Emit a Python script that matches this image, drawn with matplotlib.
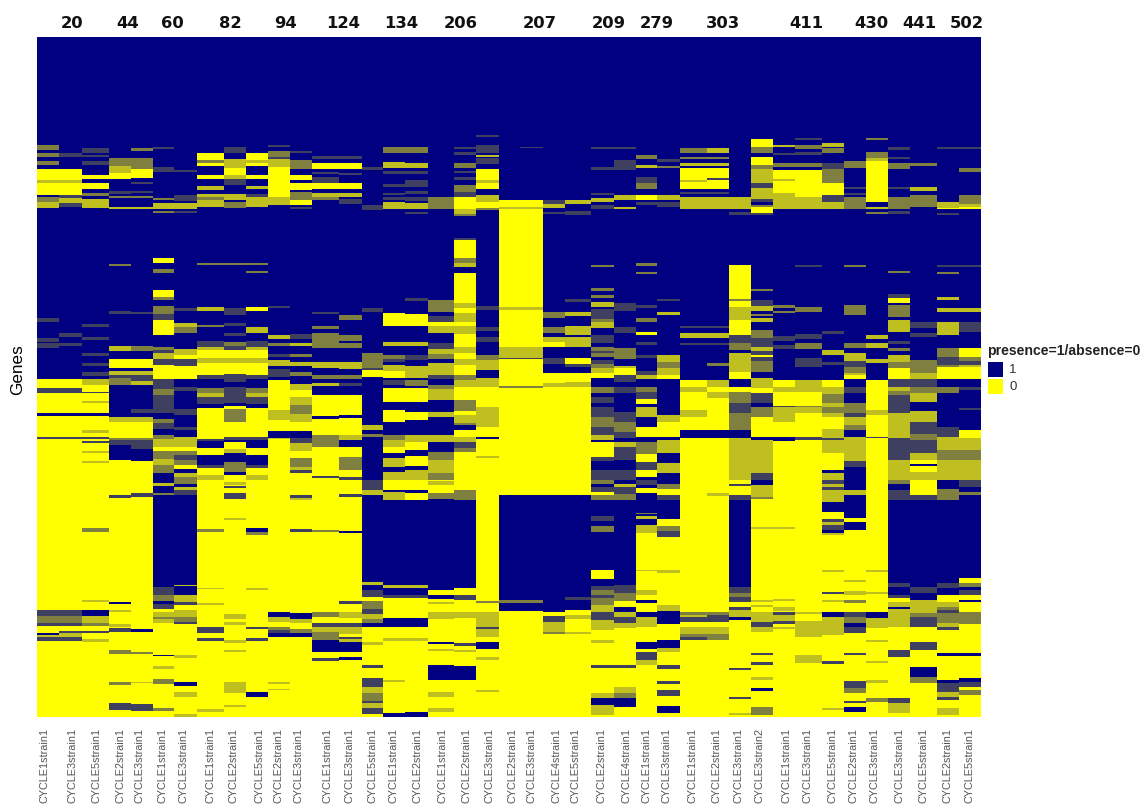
import numpy as np
import matplotlib
matplotlib.use('Agg')
import matplotlib.pyplot as plt
from matplotlib.colors import LinearSegmentedColormap
from matplotlib.patches import Rectangle

# Group names on top of the heatmap
groups = ['20', '44', '60', '82', '94', '124', '134', '206', '207', '209',
          '279', '303', '411', '430', '441', '502']

samples = ['CYCLE1strain1', 'CYCLE3strain1', 'CYCLE5strain1', 'CYCLE2strain1', 'CYCLE3strain1',
           'CYCLE1strain1', 'CYCLE3strain1', 'CYCLE1strain1', 'CYCLE2strain1', 'CYCLE5strain1',
           'CYCLE2strain1', 'CYCLE3strain1', 'CYCLE1strain1', 'CYCLE3strain1', 'CYCLE5strain1',
           'CYCLE1strain1', 'CYCLE2strain1', 'CYCLE1strain1', 'CYCLE2strain1', 'CYCLE3strain1',
           'CYCLE2strain1', 'CYCLE3strain1', 'CYCLE4strain1', 'CYCLE5strain1', 'CYCLE2strain1',
           'CYCLE4strain1', 'CYCLE1strain1', 'CYCLE3strain1', 'CYCLE1strain1', 'CYCLE2strain1',
           'CYCLE3strain1', 'CYCLE3strain2', 'CYCLE1strain1', 'CYCLE3strain1', 'CYCLE5strain1',
           'CYCLE2strain1', 'CYCLE3strain1', 'CYCLE3strain1', 'CYCLE5strain1', 'CYCLE2strain1',
           'CYCLE5strain1']

# Presence along the genes, one string per sample.
# "108n" = down to gene 108 the value is n (n=1, d=.75, g=.5, o=.25, y=0)
levels = {'n': 1.0, 'd': 0.75, 'g': 0.5, 'o': 0.25, 'y': 0.0}
n_genes = 680

runs = [
    "108n 113g 116n 120g 124n 128g 132n 143y 146o 158y 160n 165g 171o 281n 285d 301n 305d 306n 311d 342n 351y 356d 376y 379n 400y 402d 573y 579d 586g 589d 596y 598n 600o 604d 680y",
    "116n 120d 132n 143y 146o 158y 161d 166o 170d 296n 300d 306n 309d 342n 351y 356d 376y 379n 400y 402d 573y 579d 586g 589d 594y 596d 600o 604d 680y",
    "111n 116d 118n 120d 124n 128d 138n 142y 146n 152y 156n 159g 162n 171o 287n 290d 300n 303d 316n 319d 326n 329d 335n 339d 342n 348o 355y 356d 364y 366o 376y 379n 393y 396o 400y 402d 404y 406d 414y 416o 424y 426o 491y 495g 563y 565o 573y 579n 586o 589g 594y 596d 602y 605o 680y",
    "121n 129g 136o 142y 154n 157d 159n 161g 170n 172o 227n 229g 274n 277d 309n 314o 322n 331y 334n 338o 341d 348g 380n 385o 401y 403g 408d 423n 458y 461d 565y 567n 573y 575o 587y 590o 591y 595d 613y 617g 645y 648g 666y 673d 680y",
    "111n 114g 121n 132g 141y 145n 147d 154n 156d 159n 161g 170n 172o 275n 277d 309n 314g 322n 331y 334n 338o 344d 348o 372n 376d 380n 385o 401y 403g 406d 412d 424n 456y 460d 592y 595n 615y 617g 645y 646o 667y 674d 680y",
    "110n 112d 130n 135d 161n 163g 166n 172o 174n 176g 221n 226y 232n 236g 253n 260y 263g 269n 277g 283d 298y 310n 313g 316d 322o 328d 342y 352d 358g 376d 382n 386g 392d 398n 402g 410o 414y 422g 428o 436g 443n 446n 449o 456n 458g 550n 558d 564g 567n 572d 575y 580o 582g 586o 618y 619n 629y 632o 642y 647g 671y 674g 680y",
    "133n 135d 158n 164d 166n 172o 174n 176d 271n 274d 286n 290o 296g 312n 318o 322y 329d 342y 350n 354d 372n 378d 390n 393d 400n 410o 414y 418g 423d 428g 432y 436n 440o 447g 450n 453o 458d 548n 549o 558n 565o 568d 573y 580o 585g 587d 618y 621o 645y 649n 655y 660o 677y 680o",
    "116n 123y 126g 129y 138n 142y 149n 153o 157n 160o 163g 170o 226n 228g 270n 274o 288n 290g 304n 310d 313o 321y 326o 338y 342d 351n 356g 360o 367d 371n 402y 404d 411n 418y 428n 431d 438y 443o 492y 495g 551y 552o 566y 568o 590y 596d 601y 604d 672y 675o 680y",
    "110n 116d 122n 131o 138y 142o 148d 157n 163o 165n 171g 226n 228g 271n 278d 286n 289d 296n 299d 305n 309g 313d 321y 326o 337y 345d 350n 352d 366d 369n 372y 385g 400y 403d 405n 412y 416o 425n 435g 438n 445y 448o 449y 451d 456y 462d 481y 483o 577y 582o 585y 588o 603y 606o 613y 615o 645y 656o 668y 670o 680y",
    "116n 123y 126o 129y 138n 142y 149n 152o 157n 160d 163o 170o 226n 228g 234n 236g 270n 274y 290n 296o 304n 310d 313o 321y 326o 338y 342d 351n 356g 360o 367d 371n 400y 403d 411n 418y 428n 431d 438y 443o 491y 495n 498g 551y 553o 590y 592d 601y 604d 655y 660n 680y",
    "108n 110d 114n 120g 122d 130o 160y 168o 171n 269n 271d 298n 302o 306n 309g 317n 320d 323n 329o 332n 340d 343n 373y 383o 394y 401n 402o 575y 580n 585o 590y 593g 596d 600n 645y 647o 652y 653o 680y",
    "114n 116d 123n 132g 138n 143y 146n 153y 155n 163g 168y 170n 172d 297n 302d 306n 309o 317n 320g 325n 329o 335n 339g 347n 353o 360y 368o 377g 385o 394y 401n 406d 414o 421y 430g 433o 436d 458y 461d 463o 492y 495d 576y 579n 582n 586o 592y 596g 600n 680y",
    "119n 122d 126n 132y 135n 137d 140n 146d 152y 156n 160o 163g 275n 277d 289n 292g 296n 311g 325n 331o 338n 342g 346n 349o 358n 379y 382n 398y 410g 439y 441d 493y 495g 575y 580g 586y 590d 595o 603g 615n 621y 624d 680y",
    "119n 122d 126n 132y 136n 138d 146n 152y 156n 160o 162n 167d 278n 283g 298n 304g 306n 311g 325n 332o 338n 342g 346n 349d 358n 378y 381n 398y 403o 410n 420y 433g 440y 443d 457y 460d 494y 496n 564y 567d 575y 581o 586y 590d 597o 600y 602d 605o 615n 620y 623n 680y",
    "130n 133d 168n 173d 271n 275d 316n 331g 333d 340y 388n 393o 397n 400g 443n 453d 458o 545n 548o 553n 560d 564y 572g 577d 582o 586g 590n 605y 608o 628y 631d 641y 650d 656o 664g 666d 671o 677d 680y",
    "110n 116g 125n 131o 134n 137d 147n 150d 156n 158d 160n 163d 165n 172o 276n 289y 305n 309o 318n 322g 325d 328n 334o 341y 343n 348d 351n 365y 373n 385y 398n 403g 410o 416y 421n 430o 435n 443o 453y 455n 463o 548n 551o 558n 561d 581y 590n 601y 604o 643y 645o 676y 680n",
    "110n 116g 126n 131o 134n 137d 143n 150d 154n 157d 160n 164d 166n 172o 175n 177d 261n 264d 277n 289y 305n 309o 318n 323d 329n 341o 343n 349g 351n 365y 375n 383y 398n 405o 413y 419n 429y 433n 443o 453y 456n 463y 548n 551o 558n 561d 581y 590n 601y 604o 675y 680n",
    "160n 172g 263n 275g 279n 285d 289y 296o 306n 312d 317o 322g 326n 338o 342d 348n 352g 363o 375n 380o 398n 405o 415n 423g 436o 443g 444y 448o 456y 462g 553n 558y 562n 565y 567o 575y 582o 605y 607n 612y 614o 628y 643n 655y 660o 671y 675o 680y",
    "110n 112d 115n 118d 126n 131g 134n 136d 140n 143d 148n 155g 160d 172y 177o 179g 201n 203d 221y 226g 230o 236n 266y 271o 276y 285o 289y 297o 310y 316o 322y 328o 338y 343g 350o 363y 374g 378y 386o 388g 393n 400y 405o 411d 415g 453y 463g 551n 558y 563d 575y 581o 606y 609d 613y 615o 629y 643n 680y",
    "98n 100d 108n 116d 118n 120o 121n 127d 132n 143y 146o 152y 158n 165o 171y 173g 269n 273d 290n 294d 300n 305d 318n 323g 333o 341n 350o 370y 390o 400y 402n 419y 421o 564y 566g 575y 590o 592d 600o 605y 612n 620y 623o 653y 655o 680y",
    "163n 170y 172o 270y 273o 310y 321o 322d 349y 351g 458y 563n 566g 574n 680y",
    "110n 111d 163n 170y 172o 270y 273o 310y 321o 322d 349y 351g 458y 563n 566g 574n 680y",
    "163n 167d 171o 175n 177d 275n 281g 290n 296g 300n 305o 310y 321n 327d 336n 346y 350o 458y 575n 579y 585d 595o 597g 680y",
    "163n 167o 174n 178d 262n 265d 275n 279o 289n 298o 300n 310o 321n 327y 330d 336n 345y 350o 458y 560n 563d 573n 578y 582o 595y 597o 680y",
    "110n 112d 130n 133d 156n 158d 161n 165o 168n 172d 228n 230g 251n 254g 258n 261g 265n 270o 272n 282d 285g 291o 298n 306d 310n 314g 316d 320g 323n 327d 331g 336o 341y 350n 356g 360n 366d 370n 380d 390g 398d 403o 405n 420y 424d 433n 443d 447g 450n 455d 458y 463g 479n 484d 489n 495g 533n 542y 549n 553d 558g 561d 568g 575o 583d 593o 598y 603y 606o 628y 631d 656y 661o 668n 678o 680y",
    "110n 112d 123n 133d 158n 163o 170n 172o 266n 274d 290n 296d 311n 322g 329n 331o 338y 345d 350n 356d 375n 385d 395g 401d 405n 410o 423d 433n 443d 447n 450o 457d 463g 548n 556d 564g 570y 575n 580o 586d 591o 628y 631d 650y 656o 661g 670n 680y",
    "118n 122g 128n 131o 140n 146d 152g 158n 163y 165n 168d 226n 229g 235n 237g 268n 271d 281n 285g 295n 298y 305n 308d 318n 321d 334n 338d 342o 350n 355g 362d 367y 370n 380o 390n 400y 405n 417g 425y 433d 440y 443n 448d 451n 456y 459n 476n 477g 479n 482o 488n 496o 533y 534o 553y 558o 563y 566n 575y 580n 590o 605y 612n 615y 621d 623d 628o 680y",
    "122n 125d 129n 131g 158n 163o 165n 170d 262n 264d 275n 278o 318n 325o 331g 338o 342y 343n 378n 385o 400y 403n 416o 426n 436o 443n 447n 452g 458y 463d 482n 489y 494g 500d 533y 536o 568y 574o 587n 595y 603y 611n 615o 628y 632d 644y 647d 653y 659d 669y 676n 680y",
    "111n 116g 120n 122g 126n 129o 131n 143y 145o 152y 155n 157d 160n 172o 289n 291d 296n 301o 306n 308d 343n 350y 355o 373y 380o 393y 401n 575y 578g 580o 585d 590y 597o 600g 603d 680y",
    "111n 116o 120n 122g 126n 129o 131n 141y 143d 152y 155n 157d 160n 172o 289n 291d 296n 301o 306n 308d 326n 329g 343n 350o 355y 361o 393y 401n 456y 459o 575y 578g 585d 590y 597o 603g 680y",
    "160n 172o 175n 178d 228n 262y 264g 270y 283o 298y 306d 313g 316n 335o 342y 350n 355y 366g 376d 393g 401n 443o 447y 449d 458y 463d 550n 556d 560g 565d 570y 573d 580o 583n 631y 633d 660y 662d 676y 678o 680y",
    "102n 110y 116g 120n 128y 132g 146o 151d 162o 165d 168n 170g 176y 178d 252n 254g 263n 269d 274o 277n 279g 281n 285o 293n 301g 310d 314o 318d 320y 324d 335g 341n 351o 356y 366d 370n 380g 400y 403n 436o 443d 448n 452o 460o 462g 490y 492o 563y 565o 568y 570o 575y 585o 590d 595o 616y 618d 625y 628d 640y 643o 651y 654n 670y 678g 680y",
    "108n 110o 116n 118d 126n 130g 133n 142y 144o 156y 172o 268n 271g 274n 276g 299n 304d 308n 312d 343n 350y 355o 369y 370d 385o 400y 404n 490y 492o 562y 564o 570y 574o 575y 578d 584o 587d 590y 592o 680y",
    "101n 103d 108n 112g 115n 118d 126n 130g 133n 160y 172o 228n 230d 270n 275g 297n 302d 306n 312g 321n 330d 343n 355o 369y 370g 376o 400y 403d 575y 577o 584y 600o 618y 626o 680y",
    "106n 110o 111n 116g 126n 132d 146g 158y 165d 172o 294n 297d 313n 318o 325n 328d 343n 350y 357o 366g 370o 376g 380o 392y 401o 403d 416o 433y 436n 443o 447d 450o 453d 465o 475n 482y 485d 488o 493d 496n 498o 533y 535o 555y 557d 563y 565o 575y 580n 598o 624y 627d 671y 673o 680y",
    "124n 131g 150n 152d 156n 158d 160n 172g 228n 230g 268n 278g 306n 311g 316n 324o 330d 336g 338o 342y 350n 356d 366n 376g 380d 388o 393g 400n 424o 430d 443n 453n 458o 481n 485y 493n 543y 545o 554y 558o 563y 566g 575y 580d 586g 590n 596d 616y 618d 644y 651d 656g 664y 666d 670y 675n 680y",
    "101n 103g 115n 121g 124o 165y 170n 172o 175n 177g 298n 302o 306n 311o 322n 326o 343n 373y 378o 400y 401d 533y 535o 555y 557o 575y 581n 591o 603y 605o 624y 626o 643y 646o 661y 665g 680y",
    "110n 113d 120n 122d 126n 132g 150n 152d 160n 172g 174n 177d 234n 236g 257n 261d 266y 268n 280g 283n 295o 304n 307d 311n 314g 318n 325o 331g 342y 350d 354o 358g 376d 380o 401o 423d 443o 447g 453n 463d 546n 550d 558n 561d 565y 570o 572n 590o 613y 620d 661y 666d 676o 680y",
    "126n 129g 150n 154o 158n 170g 285n 291d 296n 300d 323n 336g 342o 350d 356g 365o 374n 385o 397d 403g 416d 423o 427y 429n 435y 443o 458y 463d 550n 556d 563n 570o 576o 580g 590d 605y 613d 630y 640n 646g 680y",
    "110n 112d 165n 171o 172y 176n 178d 228n 230d 235n 237g 260n 263o 271n 275o 285n 298o 311n 320g 328d 330g 342y 350n 356g 368n 390n 400d 413o 423g 443o 452n 463g 546n 551d 558n 565y 570o 573g 576d 586g 590o 593d 616y 619n 643y 646n 655d 660o 663d 671y 678o 680y",
    "110n 112d 131n 135g 158n 167g 170o 172y 228n 230d 271n 275o 285n 295d 311n 320y 324g 328d 330o 342y 350n 353d 371n 373d 393n 401y 413o 423g 443o 450d 455n 458g 541n 546y 550g 553n 558d 563y 565n 575y 587g 616y 619n 641y 645n 650d 653y 658g 680y",
]

# Sizes of the columns as they come out in the picture (every seventh one is wider)
col_widths = [22, 22.4, 27.6, 21.7, 22, 21.3, 22.4, 27.6, 21.4, 22.3, 22, 21.7, 27.3, 22.7,
              21.3, 22, 22.7, 26.3, 22.3, 22.7, 21.5, 22.2, 22.3, 26, 22.7, 22.3, 21.3, 22.7,
              27, 21.7, 22.3, 22.3, 21.7, 27.3, 22, 21.4, 22.6, 21.7, 26.7, 22.6, 21.4]
label_x = [45, 73, 97, 121, 140, 163, 184, 211, 234, 260, 279, 299, 328, 350, 373, 394, 418,
           443, 467, 490, 513, 532, 557, 576, 602, 627, 647, 667, 693, 717, 739, 760, 787, 808,
           833, 854, 875, 900, 924, 948, 970]
group_x = [72, 128, 172, 230, 286, 343, 401, 461, 540, 609, 657, 723, 806, 871, 919, 967]

# Turn the strings into the matrix
data = np.zeros((n_genes, len(runs)))
for j, run in enumerate(runs):
    start = 0
    for token in run.split():
        end = int(token[:-1])
        data[start:end, j] = levels[token[-1]]
        start = end

W, H = 1146, 808
fig = plt.figure(figsize=(W / 100, H / 100), dpi=100)
ax = fig.add_axes([37.3 / W, 1 - 717 / H, (980.7 - 37.3) / W, 680 / H])

cmap = LinearSegmentedColormap.from_list('presence', ['#FFFF00', '#000080'])
edges = 37.3 + np.concatenate([[0], np.cumsum(col_widths)])
ax.pcolormesh(edges, np.arange(n_genes + 1), data, cmap=cmap, vmin=0, vmax=1, rasterized=True)
ax.set_xlim(37.3, 980.7)
ax.set_ylim(n_genes, 0)

for spine in ax.spines.values():
    spine.set_visible(False)

ax.set_yticks([])
ax.set_xticks(label_x)
ax.set_xticklabels(samples, rotation=90, family='Liberation Sans', fontsize=7.8, color='#555555')
ax.tick_params(axis='x', length=0, pad=8)

# Group names
for name, x in zip(groups, group_x):
    ax.text(x, 1 + 14 / 680, name, transform=ax.get_xaxis_transform(), ha='center', va='center',
            fontsize=11.8, fontweight='bold', family='DejaVu Sans', color='#111111')

fig.text(18 / W, 1 - 370 / H, 'Genes', rotation=90, ha='center', va='center',
         family='Liberation Sans', fontsize=12.3, color='black')

# Legend on the right
fig.text(987 / W, 1 - 351 / H, 'presence=1/absence=0', ha='left', va='center',
         family='Liberation Sans', fontsize=10.1, fontweight='bold', color='#222222')
for y, color, label in [(362, '#000080', '1'), (379, '#FFFF00', '0')]:
    fig.patches.append(Rectangle((988 / W, 1 - (y + 15) / H), 15 / W, 15 / H, transform=fig.transFigure,
                                 facecolor=color, edgecolor='none', figure=fig))
    fig.text(1009 / W, 1 - (y + 8) / H, label, ha='left', va='center',
             family='Liberation Sans', fontsize=9.5, color='#333333')

fig.savefig('out.png', dpi=100)
